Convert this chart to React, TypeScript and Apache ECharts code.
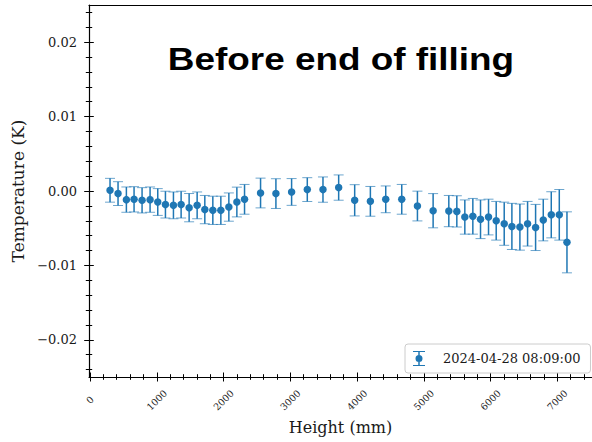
import React, { useEffect, useRef } from 'react';
import * as echarts from 'echarts';

const seriesName = '2024-04-28 08:09:00';
const titleText = 'Before end of filling';
const xAxisTitle = 'Height (mm)';
const yAxisTitle = 'Temperature (K)';

const heights = [
  300, 420, 545, 660, 780, 900, 1015, 1130, 1250, 1365, 1485, 1605, 1720, 1840, 1960, 2080, 2200, 2315,
  2555, 2785, 3020, 3255, 3490, 3725, 3965, 4200, 4430, 4670, 4905,
  5140, 5375, 5495, 5615, 5735, 5850, 5970, 6085, 6205, 6320, 6440, 6555, 6675, 6790, 6910, 7030, 7145,
];
const temps = [
  0.0001, -0.00035, -0.00116, -0.00112, -0.00125, -0.00116, -0.00148, -0.00183, -0.00193, -0.00183,
  -0.00224, -0.00193, -0.0025, -0.0026, -0.0026, -0.00216, -0.00148, -0.00112,
  -0.00027, -0.00035, -0.00013, 0.00019, 0.00019, 0.00046, -0.00125, -0.00139, -0.00112, -0.00112, -0.00202,
  -0.00265, -0.0027, -0.00274, -0.0035, -0.0034, -0.0038, -0.0035, -0.004, -0.0044, -0.00476, -0.00485,
  -0.0044, -0.0049, -0.0039, -0.0032, -0.0032, -0.0069,
];
const errors = [
  0.0016, 0.0016, 0.0017, 0.0017, 0.0017, 0.0017, 0.0018, 0.0018, 0.0018, 0.0018,
  0.0019, 0.0018, 0.0019, 0.0019, 0.0019, 0.0019, 0.002, 0.002,
  0.002, 0.002, 0.0018, 0.0016, 0.0017, 0.0017, 0.0021, 0.002, 0.0018, 0.002, 0.002,
  0.0023, 0.0021, 0.0021, 0.0023, 0.0024, 0.0026, 0.0024, 0.0026, 0.0029, 0.0031, 0.0031,
  0.003, 0.0031, 0.0028, 0.0031, 0.0034, 0.0041,
];

const xMajorTicks = [0, 1000, 2000, 3000, 4000, 5000, 6000, 7000];
const xMinorTicks = [
  200, 400, 600, 800, 1200, 1400, 1600, 1800, 2200, 2400, 2600, 2800, 3200, 3400, 3600, 3800,
  4200, 4400, 4600, 4800, 5200, 5400, 5600, 5800, 6200, 6400, 6600, 6800, 7200, 7400,
];
const yMajorTicks = [-0.02, -0.01, 0, 0.01, 0.02];
const yMinorTicks = [
  -0.024, -0.022, -0.018, -0.016, -0.014, -0.012, -0.008, -0.006, -0.004, -0.002,
  0.002, 0.004, 0.006, 0.008, 0.012, 0.014, 0.016, 0.018, 0.022, 0.024,
];

const X_MIN = -15;
const X_MAX = 7520;
const Y_MIN = -0.025;
const Y_MAX = 0.025;

const BLUE = '#1f77b4';
const AXIS_COLOR = '#000';
const TEXT_COLOR = '#1a1a1a';
const SERIF = '"DejaVu Serif", serif';

const legendIcon =
  'path://M0,0H12V1H0Z M5.25,0H6.75V15H5.25Z M0,14H12V15H0Z M9.5,7.5A3.5,3.5,0,1,1,2.5,7.5A3.5,3.5,0,1,1,9.5,7.5Z';

function tickAxis(kind: 'x' | 'y', ticks: number[], inside: boolean, length: number, extra: any = {}) {
  return {
    type: 'value',
    min: kind === 'x' ? X_MIN : Y_MIN,
    max: kind === 'x' ? X_MAX : Y_MAX,
    position: kind === 'x' ? 'bottom' : 'left',
    axisLine: { show: false, onZero: false },
    axisTick: {
      show: true,
      inside,
      length,
      customValues: ticks,
      lineStyle: { color: AXIS_COLOR, width: 1 },
    },
    axisLabel: { show: false },
    splitLine: { show: false },
    ...extra,
  };
}

function fmtY(v: number) {
  const s = Math.abs(v).toFixed(2);
  return v < -1e-9 ? '\u2212' + s : s;
}

function fmtX(v: number) {
  return String(Math.round(v));
}

export default function App() {
  const ref = useRef<HTMLDivElement>(null);

  useEffect(() => {
    if (!ref.current) return;
    const chart = echarts.init(ref.current, null, { renderer: 'svg' });

    const errData = heights.map((h, i) => [h, temps[i] - errors[i], temps[i] + errors[i]]);
    const pointData = heights.map((h, i) => [h, temps[i]]);

    const option: any = {
      animation: false,
      backgroundColor: '#fff',
      grid: {
        left: 89,
        right: 0,
        top: 5,
        bottom: 65,
        containLabel: false,
        outerBoundsMode: 'none',
      },
      xAxis: [
        tickAxis('x', xMajorTicks, false, 4.5, {
          axisLine: { show: true, onZero: false, lineStyle: { color: AXIS_COLOR, width: 1.2 } },
          axisLabel: {
            show: true,
            customValues: xMajorTicks,
            formatter: fmtX,
            rotate: 45,
            align: 'center',
            verticalAlign: 'middle',
            margin: 23,
            fontSize: 9.5,
            fontFamily: SERIF,
            color: TEXT_COLOR,
          },
          name: xAxisTitle,
          nameLocation: 'middle',
          nameGap: 42,
          nameTextStyle: { fontSize: 16, fontFamily: SERIF, color: TEXT_COLOR },
        }),
        tickAxis('x', xMajorTicks, true, 4.5),
        tickAxis('x', xMinorTicks, false, 2.8),
        tickAxis('x', xMinorTicks, true, 2.8),
        tickAxis('x', [], false, 0, {
          position: 'top',
          axisLine: { show: true, onZero: false, lineStyle: { color: AXIS_COLOR, width: 1.2 } },
          axisTick: { show: false },
        }),
      ],
      yAxis: [
        tickAxis('y', yMajorTicks, false, 4.8, {
          axisLine: { show: true, onZero: false, lineStyle: { color: AXIS_COLOR, width: 1.2 } },
          axisLabel: {
            show: true,
            customValues: yMajorTicks,
            formatter: fmtY,
            margin: 12,
            fontSize: 13,
            fontFamily: SERIF,
            color: TEXT_COLOR,
          },
          name: yAxisTitle,
          nameLocation: 'middle',
          nameGap: 63,
          nameRotate: 90,
          nameTextStyle: { fontSize: 17, fontFamily: SERIF, color: TEXT_COLOR },
        }),
        tickAxis('y', yMajorTicks, true, 4.8),
        tickAxis('y', yMinorTicks, false, 3.2),
        tickAxis('y', yMinorTicks, true, 3.2),
      ],
      legend: {
        data: [{ name: seriesName, icon: legendIcon }],
        left: 405,
        top: 344,
        orient: 'horizontal',
        padding: [7, 10, 7, 8],
        itemWidth: 20,
        itemHeight: 15,
        borderColor: '#cccccc',
        borderWidth: 1,
        borderRadius: 3,
        backgroundColor: 'rgba(255,255,255,0.85)',
        textStyle: { fontFamily: SERIF, fontSize: 13, color: TEXT_COLOR, padding: [0, 0, 0, 9] },
        selectedMode: false,
      },
      graphic: [
        {
          type: 'text',
          x: 341,
          y: 59,
          scaleX: 1.19,
          style: {
            text: titleText,
            fontSize: 31,
            fontWeight: 'bold',
            fontFamily: '"Liberation Sans", Arial, sans-serif',
            fill: '#000',
            align: 'center',
            verticalAlign: 'middle',
          },
          z: 10,
        },
      ],
      series: [
        {
          type: 'custom',
          name: 'errorbars',
          xAxisIndex: 0,
          yAxisIndex: 0,
          data: errData,
          encode: { x: 0, y: [1, 2] },
          z: 2,
          renderItem: (params: any, api: any) => {
            const x = api.value(0);
            const lo = api.coord([x, api.value(1)]);
            const hi = api.coord([x, api.value(2)]);
            const hw = 5;
            return {
              type: 'group',
              children: [
                {
                  type: 'line',
                  shape: { x1: lo[0], y1: lo[1], x2: hi[0], y2: hi[1] },
                  style: { stroke: BLUE, lineWidth: 1.5 },
                },
                {
                  type: 'line',
                  shape: { x1: lo[0] - hw, y1: lo[1], x2: lo[0] + hw, y2: lo[1] },
                  style: { stroke: BLUE, lineWidth: 1, opacity: 0.65 },
                },
                {
                  type: 'line',
                  shape: { x1: hi[0] - hw, y1: hi[1], x2: hi[0] + hw, y2: hi[1] },
                  style: { stroke: BLUE, lineWidth: 1, opacity: 0.65 },
                },
              ],
            };
          },
        },
        {
          type: 'scatter',
          name: seriesName,
          xAxisIndex: 0,
          yAxisIndex: 0,
          data: pointData,
          symbol: 'circle',
          symbolSize: 7.5,
          itemStyle: { color: BLUE, opacity: 1 },
          z: 3,
        },
      ],
    };

    chart.setOption(option);
    return () => chart.dispose();
  }, []);

  return (
    <div
      ref={ref}
      style={{ position: 'fixed', left: 0, top: 0, width: 592, height: 442, background: '#fff' }}
    />
  );
}
